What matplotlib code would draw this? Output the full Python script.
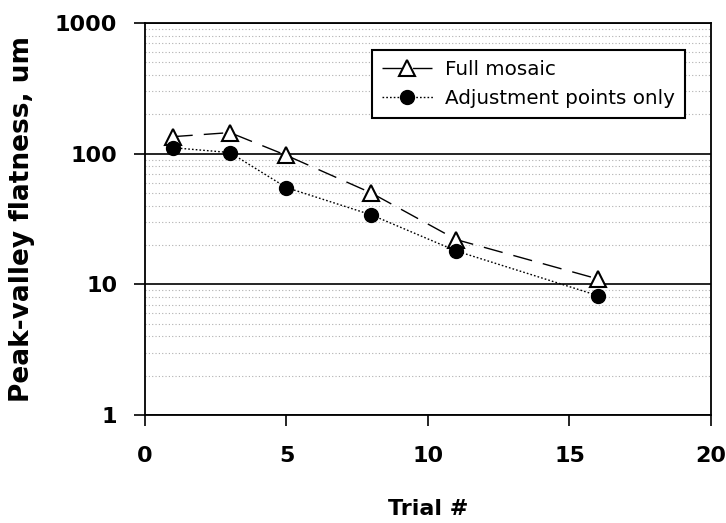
import numpy as np
import matplotlib.pyplot as plt
from matplotlib.ticker import FixedLocator, LogLocator, NullFormatter

trial = [1, 3, 5, 8, 11, 16]
full_mosaic = [135, 145, 97, 50, 22, 11]
adjust_only = [111, 102, 55, 34, 18, 8.2]

xticks = [0, 5, 10, 15, 20]
yticks = [1, 10, 100, 1000]
ytick_labels = ["1", "10", "100", "1000"]

fig = plt.figure(figsize=(7.26, 5.23), dpi=100)
ax = fig.add_axes([0.1997, 0.2065, 0.7796, 0.7495])

ax.plot(trial, full_mosaic, color="black", lw=1.0, ls=(0, (14, 8)),
        marker="^", ms=11, mfc="white", mec="black", mew=1.5,
        label="Full mosaic")
ax.plot(trial, adjust_only, color="black", lw=1.0, ls=(0, (1.2, 1.5)),
        marker="o", ms=10, mfc="black", mec="black",
        label="Adjustment points only")

ax.set_yscale("log")
ax.set_xlim(0, 20)
ax.set_ylim(1, 1000)
ax.set_xticks(xticks)
ax.yaxis.set_major_locator(FixedLocator(yticks))
ax.set_yticklabels(ytick_labels)
ax.yaxis.set_minor_locator(LogLocator(base=10, subs=np.arange(2, 10)))
ax.yaxis.set_minor_formatter(NullFormatter())

# decades solid, in-between values as faint dotted lines
ax.grid(which="major", axis="y", color="black", lw=1.2, ls="-")
ax.grid(which="minor", axis="y", color="#b0b0b0", lw=0.8, ls=(0, (1, 2)))
ax.set_axisbelow(True)

for s in ax.spines.values():
    s.set_color("black")
    s.set_linewidth(1.3)

ax.tick_params(axis="both", which="major", direction="out", length=8,
               width=1.2, labelsize=16)
ax.tick_params(axis="y", which="minor", length=0)
ax.tick_params(axis="y", pad=12)
ax.tick_params(axis="x", pad=14)
for lab in ax.get_xticklabels() + ax.get_yticklabels():
    lab.set_fontweight("bold")

ax.set_xlabel("Trial #", fontsize=16, fontweight="bold", labelpad=24)
ax.set_ylabel("Peak-valley flatness, um", fontsize=19, fontweight="bold",
              labelpad=14)

leg = ax.legend(loc="upper right", bbox_to_anchor=(0.954, 0.931),
                fontsize=14.3, frameon=True, fancybox=False,
                handlelength=2.6, borderpad=0.5, labelspacing=0.5,
                handletextpad=0.6, borderaxespad=0)
leg.get_frame().set_edgecolor("black")
leg.get_frame().set_linewidth(1.5)
leg.get_frame().set_alpha(1)

fig.savefig("out.png", dpi=100)
